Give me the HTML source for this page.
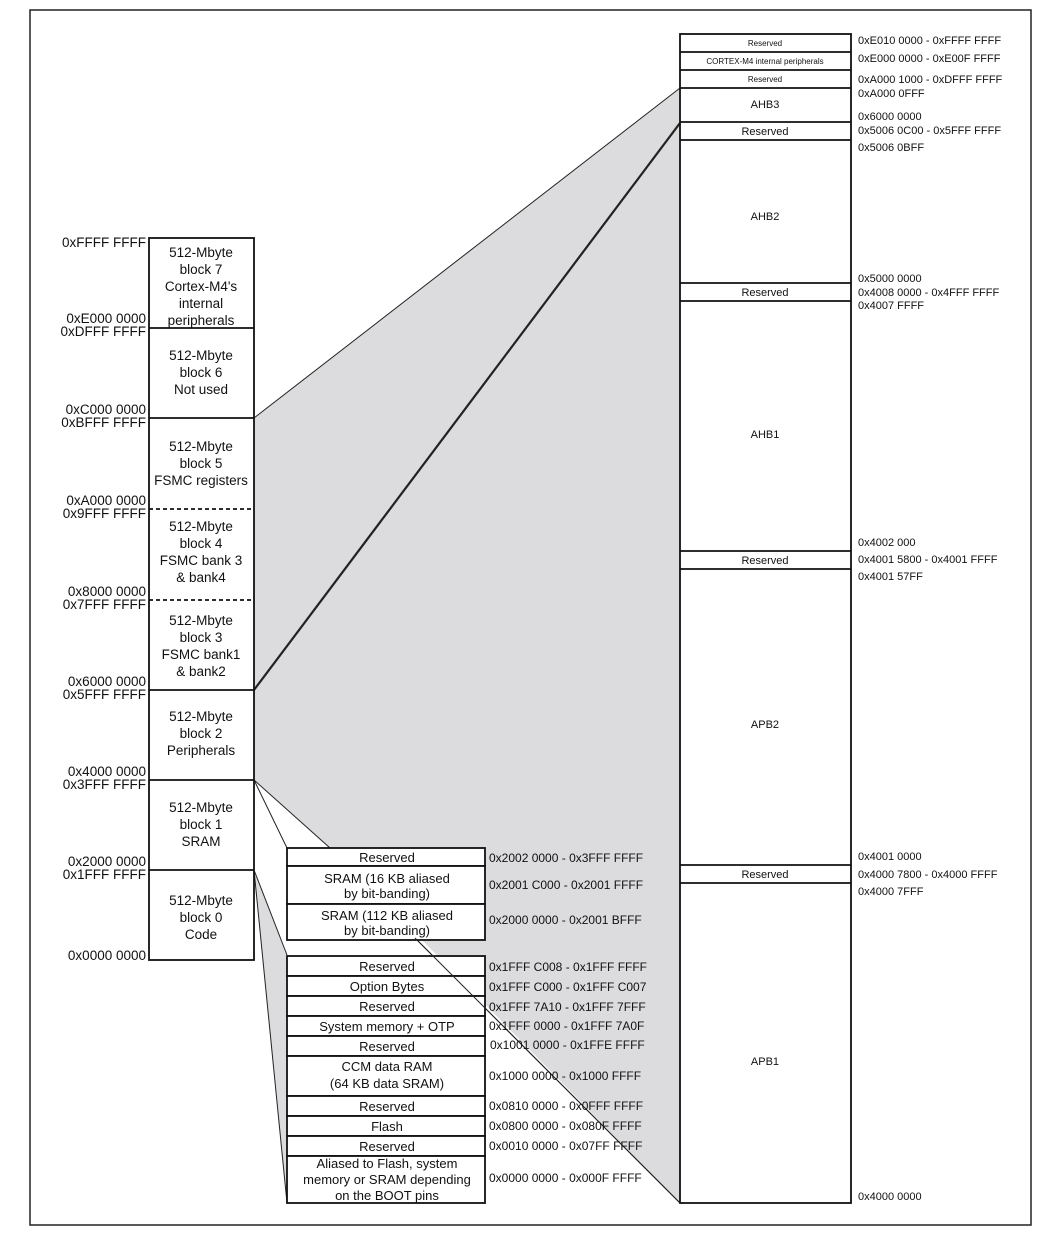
<!DOCTYPE html>
<html><head><meta charset="utf-8"><style>
html,body{margin:0;padding:0;background:#fff;}
svg{display:block;font-family:"Liberation Sans",Arial,sans-serif;}
</style></head><body>
<svg width="1059" height="1248" viewBox="0 0 1059 1248" xmlns="http://www.w3.org/2000/svg">
<rect x="30" y="10" width="1001" height="1215" fill="#fff" stroke="#222" stroke-width="1.5"/>
<!-- gray shading -->
<polygon points="254,418 680,88 680,1203 420,938 330,848 254,780" fill="#dcdcde"/>
<polygon points="254,870 287,955 287,1203" fill="#dcdcde"/>
<polygon points="254,780 287,848 330,848" fill="#fff"/>
<!-- connector lines -->
<g stroke="#222" fill="none">
<line x1="254" y1="418" x2="680" y2="88" stroke-width="1"/>
<line x1="254" y1="690" x2="680" y2="123" stroke-width="2.2"/>
<line x1="254" y1="780" x2="287" y2="848" stroke-width="1"/>
<line x1="254" y1="780" x2="330" y2="848" stroke-width="1"/>
<line x1="254" y1="870" x2="287" y2="955" stroke-width="1"/>
<line x1="254" y1="870" x2="287" y2="1203" stroke-width="1"/>
<line x1="415" y1="938" x2="680" y2="1203" stroke-width="1"/>
</g>
<!-- left column -->
<g stroke="#111" stroke-width="1.8" fill="#fff">
<rect x="149" y="238" width="105" height="722"/>
</g>
<g stroke="#111" stroke-width="1.8">
<line x1="149" y1="328" x2="254" y2="328"/>
<line x1="149" y1="418" x2="254" y2="418"/>
<line x1="149" y1="509" x2="254" y2="509" stroke-dasharray="4,3"/>
<line x1="149" y1="600" x2="254" y2="600" stroke-dasharray="4,3"/>
<line x1="149" y1="690" x2="254" y2="690"/>
<line x1="149" y1="780" x2="254" y2="780"/>
<line x1="149" y1="870" x2="254" y2="870"/>
</g>
<g font-size="13.5" fill="#111" text-anchor="middle">
<text x="201" y="257">512-Mbyte</text><text x="201" y="274">block 7</text><text x="201" y="291">Cortex-M4's</text><text x="201" y="308">internal</text><text x="201" y="325">peripherals</text>
<text x="201" y="360">512-Mbyte</text><text x="201" y="377">block 6</text><text x="201" y="394">Not used</text>
<text x="201" y="451">512-Mbyte</text><text x="201" y="468">block 5</text><text x="201" y="485">FSMC registers</text>
<text x="201" y="531">512-Mbyte</text><text x="201" y="548">block 4</text><text x="201" y="565">FSMC bank 3</text><text x="201" y="582">&amp; bank4</text>
<text x="201" y="625">512-Mbyte</text><text x="201" y="642">block 3</text><text x="201" y="659">FSMC bank1</text><text x="201" y="676">&amp; bank2</text>
<text x="201" y="721">512-Mbyte</text><text x="201" y="738">block 2</text><text x="201" y="755">Peripherals</text>
<text x="201" y="812">512-Mbyte</text><text x="201" y="829">block 1</text><text x="201" y="846">SRAM</text>
<text x="201" y="905">512-Mbyte</text><text x="201" y="922">block 0</text><text x="201" y="939">Code</text>
</g>
<g font-size="13.5" fill="#111" text-anchor="end">
<text x="146" y="247">0xFFFF FFFF</text>
<text x="146" y="323">0xE000 0000</text><text x="146" y="336">0xDFFF FFFF</text>
<text x="146" y="414">0xC000 0000</text><text x="146" y="427">0xBFFF FFFF</text>
<text x="146" y="505">0xA000 0000</text><text x="146" y="518">0x9FFF FFFF</text>
<text x="146" y="596">0x8000 0000</text><text x="146" y="609">0x7FFF FFFF</text>
<text x="146" y="686">0x6000 0000</text><text x="146" y="699">0x5FFF FFFF</text>
<text x="146" y="776">0x4000 0000</text><text x="146" y="789">0x3FFF FFFF</text>
<text x="146" y="866">0x2000 0000</text><text x="146" y="879">0x1FFF FFFF</text>
<text x="146" y="960">0x0000 0000</text>
</g>
<!-- right column -->
<rect x="680" y="34" width="171" height="1169" fill="#fff" stroke="#111" stroke-width="1.8"/>
<g stroke="#111" stroke-width="1.8">
<line x1="680" y1="52" x2="851" y2="52"/><line x1="680" y1="70" x2="851" y2="70"/>
<line x1="680" y1="88" x2="851" y2="88"/><line x1="680" y1="122" x2="851" y2="122"/>
<line x1="680" y1="140" x2="851" y2="140"/><line x1="680" y1="283" x2="851" y2="283"/>
<line x1="680" y1="301" x2="851" y2="301"/><line x1="680" y1="551" x2="851" y2="551"/>
<line x1="680" y1="569" x2="851" y2="569"/><line x1="680" y1="865" x2="851" y2="865"/>
<line x1="680" y1="883" x2="851" y2="883"/>
</g>
<g fill="#111" text-anchor="middle">
<text x="765" y="46" font-size="8">Reserved</text>
<text x="765" y="64" font-size="8">CORTEX-M4 internal peripherals</text>
<text x="765" y="82" font-size="8">Reserved</text>
<text x="765" y="108" font-size="11">AHB3</text>
<text x="765" y="135" font-size="11">Reserved</text>
<text x="765" y="220" font-size="11">AHB2</text>
<text x="765" y="296" font-size="11">Reserved</text>
<text x="765" y="438" font-size="11">AHB1</text>
<text x="765" y="564" font-size="11">Reserved</text>
<text x="765" y="728" font-size="11">APB2</text>
<text x="765" y="878" font-size="11">Reserved</text>
<text x="765" y="1065" font-size="11">APB1</text>
</g>
<g fill="#111" font-size="11">
<text x="858" y="44">0xE010 0000 - 0xFFFF FFFF</text>
<text x="858" y="62">0xE000 0000 - 0xE00F FFFF</text>
<text x="858" y="83">0xA000 1000 - 0xDFFF FFFF</text>
<text x="858" y="97">0xA000 0FFF</text>
<text x="858" y="120">0x6000 0000</text>
<text x="858" y="134">0x5006 0C00 - 0x5FFF FFFF</text>
<text x="858" y="151">0x5006 0BFF</text>
<text x="858" y="282">0x5000 0000</text>
<text x="858" y="296">0x4008 0000 - 0x4FFF FFFF</text>
<text x="858" y="309">0x4007 FFFF</text>
<text x="858" y="546">0x4002 000</text>
<text x="858" y="563">0x4001 5800 - 0x4001 FFFF</text>
<text x="858" y="580">0x4001 57FF</text>
<text x="858" y="860">0x4001 0000</text>
<text x="858" y="878">0x4000 7800 - 0x4000 FFFF</text>
<text x="858" y="895">0x4000 7FFF</text>
<text x="858" y="1200">0x4000 0000</text>
</g>
<!-- lower boxes -->
<g fill="#fff" stroke="#111" stroke-width="1.8">
<rect x="287" y="848" width="198" height="18"/>
<rect x="287" y="866" width="198" height="38"/>
<rect x="287" y="904" width="198" height="36"/>
<rect x="287" y="956" width="198" height="20"/>
<rect x="287" y="976" width="198" height="20"/>
<rect x="287" y="996" width="198" height="20"/>
<rect x="287" y="1016" width="198" height="20"/>
<rect x="287" y="1036" width="198" height="20"/>
<rect x="287" y="1056" width="198" height="40"/>
<rect x="287" y="1096" width="198" height="20"/>
<rect x="287" y="1116" width="198" height="20"/>
<rect x="287" y="1136" width="198" height="20"/>
<rect x="287" y="1156" width="198" height="47"/>
</g>
<line x1="415" y1="938" x2="680" y2="1203" stroke="#222" stroke-width="1"/>
<g fill="#111" font-size="13" text-anchor="middle">
<text x="387" y="862">Reserved</text>
<text x="387" y="883">SRAM (16 KB aliased</text><text x="387" y="898">by bit-banding)</text>
<text x="387" y="920">SRAM (112 KB aliased</text><text x="387" y="935">by bit-banding)</text>
<text x="387" y="971">Reserved</text>
<text x="387" y="991">Option Bytes</text>
<text x="387" y="1011">Reserved</text>
<text x="387" y="1031">System memory + OTP</text>
<text x="387" y="1051">Reserved</text>
<text x="387" y="1071">CCM data RAM</text><text x="387" y="1088">(64 KB data SRAM)</text>
<text x="387" y="1111">Reserved</text>
<text x="387" y="1131">Flash</text>
<text x="387" y="1151">Reserved</text>
<text x="387" y="1168">Aliased to Flash, system</text><text x="387" y="1184">memory or SRAM depending</text><text x="387" y="1200">on the BOOT pins</text>
</g>
<g fill="#111" font-size="12">
<text x="489" y="862">0x2002 0000 - 0x3FFF FFFF</text>
<text x="489" y="889">0x2001 C000 - 0x2001 FFFF</text>
<text x="489" y="924">0x2000 0000 - 0x2001 BFFF</text>
<text x="489" y="971">0x1FFF C008 - 0x1FFF FFFF</text>
<text x="489" y="991">0x1FFF C000 - 0x1FFF C007</text>
<text x="489" y="1011">0x1FFF 7A10 - 0x1FFF 7FFF</text>
<text x="489" y="1030">0x1FFF 0000 - 0x1FFF 7A0F</text>
<text x="490" y="1049">0x1001 0000 - 0x1FFE FFFF</text>
<text x="489" y="1080">0x1000 0000 - 0x1000 FFFF</text>
<text x="489" y="1110">0x0810 0000 - 0x0FFF FFFF</text>
<text x="489" y="1130">0x0800 0000 - 0x080F FFFF</text>
<text x="489" y="1150">0x0010 0000 - 0x07FF FFFF</text>
<text x="489" y="1182">0x0000 0000 - 0x000F FFFF</text>
</g>
</svg>
</body></html>
